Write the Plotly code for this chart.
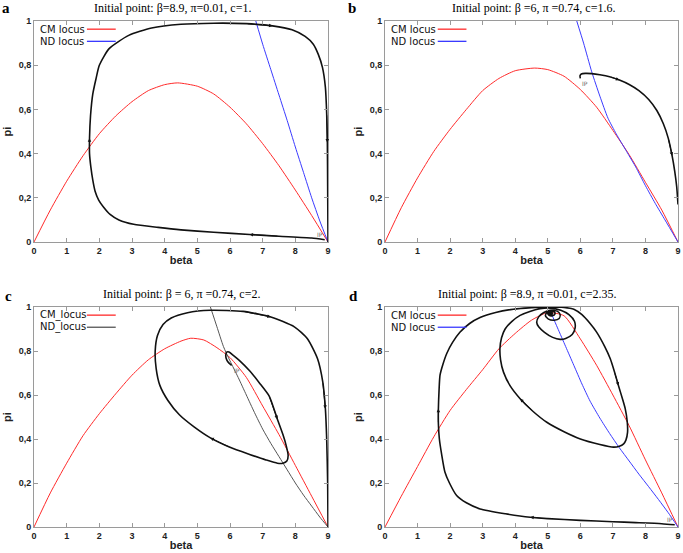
import plotly.graph_objects as go

# ---------------- DATA ----------------
x_tick_vals = [0, 1, 2, 3, 4, 5, 6, 7, 8, 9]
x_tick_text = ["0", "1", "2", "3", "4", "5", "6", "7", "8", "9"]
y_tick_vals = [0, 0.2, 0.4, 0.6, 0.8, 1.0]
y_tick_text = ["0", "0,2", "0,4", "0,6", "0,8", "1"]

panel_letters = ["a", "b", "c", "d"]
panel_titles = [
    "Initial point: β=8.9, π=0.01, c=1.",
    "Initial point: β =6, π =0.74, c=1.6.",
    "Initial point: β = 6, π =0.74, c=2.",
    "Initial point: β =8.9, π =0.01, c=2.35.",
]
cm_names = ["CM locus", "CM locus", "CM_locus", "CM locus"]
nd_names = ["ND locus", "ND locus", "ND_locus", "ND locus"]

# Panel a
a_cm_beta = [0, 0.5, 1, 1.5, 2, 2.5, 3, 3.5, 4, 4.4, 5, 5.5, 6, 6.5, 7, 7.5, 8, 8.5, 9]
a_cm_pi = [0, 0.145, 0.275, 0.39, 0.49, 0.57, 0.635, 0.685, 0.712, 0.72, 0.705, 0.67, 0.61,
           0.535, 0.445, 0.345, 0.235, 0.12, 0]
a_nd_beta = [6.79, 7.0, 7.25, 7.5, 7.75, 8.0, 8.25, 8.5, 8.75, 9.0]
a_nd_pi = [1.0, 0.895, 0.78, 0.665, 0.55, 0.43, 0.315, 0.2, 0.095, 0]
a_tr_beta = [8.9, 8.5, 7.5, 6.6, 5.5, 4.5, 3.8, 3.05, 2.6, 2.33, 2.12, 1.98, 1.87, 1.8, 1.74,
             1.70, 1.70, 1.73, 1.80, 1.90, 2.0, 2.3, 2.9, 3.6, 4.5, 5.5, 6.5, 7.3, 7.9, 8.3,
             8.55, 8.7, 8.83, 8.92, 8.96, 8.98, 8.99, 9.0]
a_tr_pi = [0.01, 0.018, 0.026, 0.034, 0.044, 0.055, 0.066, 0.08, 0.1, 0.125, 0.16, 0.19, 0.23,
           0.28, 0.34, 0.40, 0.47, 0.57, 0.67, 0.74, 0.80, 0.875, 0.935, 0.968, 0.985, 0.99,
           0.988, 0.978, 0.96, 0.93, 0.895, 0.85, 0.79, 0.70, 0.58, 0.45, 0.25, 0.0]
a_arrow_idx = [3, 16, 27, 35]

# Panel b
b_cm_beta = [0, 0.5, 1, 1.5, 2, 2.5, 3, 3.5, 4, 4.6, 5, 5.5, 6, 6.5, 7, 7.5, 8, 8.5, 9]
b_cm_pi = [0, 0.155, 0.29, 0.41, 0.51, 0.6, 0.685, 0.74, 0.775, 0.787, 0.78, 0.75, 0.69, 0.61,
           0.505, 0.395, 0.27, 0.145, 0]
b_nd_beta = [5.89, 6.1, 6.35, 6.6, 6.85, 7.1, 7.4, 7.5, 7.7, 8.0, 8.3, 8.6, 9.0]
b_nd_pi = [1.0, 0.9, 0.77, 0.66, 0.56, 0.49, 0.415, 0.39, 0.34, 0.255, 0.175, 0.1, 0]
b_tr_beta = [6.0, 5.99, 6.03, 6.15, 6.35, 6.6, 6.9, 7.2, 7.5, 7.8, 8.1, 8.35, 8.55, 8.7, 8.82,
             8.9, 8.96, 9.0]
b_tr_pi = [0.74, 0.752, 0.76, 0.763, 0.762, 0.757, 0.748, 0.733, 0.713, 0.685, 0.645, 0.595,
           0.535, 0.47, 0.39, 0.32, 0.25, 0.17]
b_arrow_idx = [7, 14]

# Panel c
c_cm_beta = [0, 0.5, 1, 1.5, 2, 2.5, 3, 3.5, 4, 4.5, 4.8, 5.2, 5.6, 6, 6.5, 7, 7.5, 8, 8.5, 9]
c_cm_pi = [0, 0.155, 0.29, 0.415, 0.515, 0.605, 0.69, 0.76, 0.81, 0.845, 0.858, 0.85, 0.815,
           0.77, 0.68, 0.55, 0.42, 0.28, 0.14, 0]
c_nd_beta = [5.4, 5.6, 5.8, 6.0, 6.25, 6.5, 6.75, 7.0, 7.25, 7.5, 7.75, 8.0, 8.25, 8.5, 8.75, 9.0]
c_nd_pi = [1.0, 0.91, 0.82, 0.755, 0.68, 0.6, 0.52, 0.445, 0.38, 0.32, 0.26, 0.2, 0.145, 0.095,
           0.045, 0]
c_tr_beta = [6.05, 5.97, 5.9, 5.87, 5.9, 5.97, 6.1, 6.3, 6.6, 6.9, 7.2, 7.45, 7.62, 7.72, 7.78,
             7.74, 7.62, 7.45, 7.1, 6.6, 6.0, 5.4, 4.9, 4.45, 4.1, 3.85, 3.74, 3.71, 3.78, 3.95,
             4.2, 4.7, 5.4, 6.4, 7.25, 7.97, 8.37, 8.68, 8.84, 8.92, 8.96, 8.99, 9.0]
c_tr_pi = [0.735, 0.745, 0.76, 0.78, 0.795, 0.795, 0.78, 0.755, 0.71, 0.655, 0.595, 0.49, 0.42,
           0.37, 0.325, 0.3, 0.29, 0.29, 0.305, 0.33, 0.362, 0.405, 0.455, 0.51, 0.575, 0.645,
           0.72, 0.8, 0.87, 0.92, 0.95, 0.974, 0.985, 0.98, 0.955, 0.91, 0.856, 0.765, 0.66,
           0.537, 0.40, 0.20, 0.0]
c_arrow_idx = [11, 21, 34, 39]

# Panel d
d_cm_beta = [0, 0.5, 1, 1.5, 2, 2.5, 3, 3.5, 4, 4.5, 5.0, 5.5, 6, 6.5, 7, 7.5, 8, 8.5, 9]
d_cm_pi = [0, 0.14, 0.275, 0.41, 0.53, 0.625, 0.715, 0.81, 0.88, 0.94, 0.975, 0.96, 0.855,
           0.735, 0.6, 0.46, 0.305, 0.155, 0]
d_nd_beta = [5.09, 5.3, 5.55, 5.8, 6.05, 6.3, 6.6, 6.9, 7.2, 7.5, 7.8, 8.1, 8.4, 8.7, 9.0]
d_nd_pi = [0.977, 0.905, 0.82, 0.735, 0.65, 0.572, 0.495, 0.425, 0.36, 0.3, 0.24, 0.183,
           0.125, 0.065, 0]
d_tr_beta = [8.9, 8.5, 7.7, 7.0, 6.0, 5.0, 4.46, 3.7, 2.92, 2.5, 2.2, 1.98, 1.84, 1.74, 1.67,
             1.64, 1.64, 1.66, 1.69, 1.78, 1.9, 2.08, 2.3, 2.6, 2.92, 3.4, 3.94, 4.5, 5.0, 5.5,
             5.8, 6.05, 6.3, 6.5, 6.75, 6.92, 7.05, 7.17, 7.3, 7.38, 7.44, 7.45, 7.4, 7.33, 7.2,
             7.02, 6.6, 6.0, 5.5, 4.97, 4.55, 4.15, 3.85, 3.64, 3.55, 3.53, 3.58, 3.69, 3.9,
             4.15, 4.45, 4.76, 5.07,
             5.4, 5.65, 5.82, 5.84, 5.75, 5.55, 5.38, 5.15, 4.9, 4.72, 4.66, 4.72, 4.88, 5.07,
             5.3, 5.38, 5.35, 5.2, 5.02, 4.93, 4.97, 5.08,
             5.2, 5.22, 5.14, 5.04, 5.0, 5.06, 5.13, 5.14, 5.09, 5.05, 5.08, 5.1, 5.08]
d_tr_pi = [0.01, 0.015, 0.02, 0.024, 0.03, 0.038, 0.044, 0.06, 0.082, 0.11, 0.143, 0.2, 0.25,
           0.33, 0.40, 0.47, 0.537, 0.62, 0.69, 0.74, 0.79, 0.84, 0.885, 0.925, 0.952, 0.975,
           0.99, 0.997, 1.0, 0.998,
           0.99, 0.965, 0.925, 0.886, 0.82, 0.765, 0.705, 0.643, 0.58, 0.537, 0.48, 0.43,
           0.395, 0.378, 0.367, 0.363, 0.375, 0.40, 0.433, 0.476, 0.525, 0.583, 0.64, 0.704,
           0.76, 0.81, 0.86, 0.90, 0.935, 0.962, 0.98, 0.992, 0.995,
           0.985, 0.965, 0.935, 0.905, 0.875, 0.857, 0.853, 0.862, 0.885, 0.91, 0.93, 0.955,
           0.975, 0.985,
           0.98, 0.965, 0.948, 0.94, 0.945, 0.96, 0.975, 0.982,
           0.978, 0.968, 0.96, 0.962, 0.971, 0.978, 0.975, 0.969, 0.966, 0.97, 0.974, 0.972,
           0.97]
d_arrow_idx = [6, 16, 37, 51]

panels = [
    (a_cm_beta, a_cm_pi, a_nd_beta, a_nd_pi, a_tr_beta, a_tr_pi, a_arrow_idx),
    (b_cm_beta, b_cm_pi, b_nd_beta, b_nd_pi, b_tr_beta, b_tr_pi, b_arrow_idx),
    (c_cm_beta, c_cm_pi, c_nd_beta, c_nd_pi, c_tr_beta, c_tr_pi, c_arrow_idx),
    (d_cm_beta, d_cm_pi, d_nd_beta, d_nd_pi, d_tr_beta, d_tr_pi, d_arrow_idx),
]

# ---------------- LAYOUT / STYLE ----------------
W, H = 683, 553
# plot areas in pixels: (left, right, top, bottom)
boxes = [(34, 328, 21, 242), (385, 678, 21, 242), (34, 328, 307, 527), (385, 678, 307, 527)]
title_pos = [(172, 8), (533, 8), (181, 294), (527, 294)]
letter_pos = [(6, 8), (352, 8), (8, 296), (353, 296)]
nd_colors = ["#3a3aff", "#3a3aff", "#555555", "#3a3aff"]
cm_color = "#ff2a2a"
frame_col = "#9a9a9a"

fig = go.Figure()
annotations = []
shapes = []
layout_axes = {}

for i, (cmb, cmp, ndb, ndp, trb, trp, arr) in enumerate(panels):
    n = "" if i == 0 else str(i + 1)
    xa, ya = "x" + n, "y" + n
    l, r, t, b = boxes[i]
    layout_axes["xaxis" + n] = dict(
        domain=[l / W, r / W], anchor=ya, range=[0, 9], automargin=False,
        tickvals=x_tick_vals, ticktext=x_tick_text,
        ticks="inside", ticklen=4, tickcolor=frame_col, showline=True, linecolor=frame_col,
        linewidth=1, mirror="ticks", showgrid=False, zeroline=False,
        tickfont=dict(family="Liberation Sans", size=9, color="#222", weight="bold"),
        title=dict(text="beta", standoff=1,
                   font=dict(family="Liberation Sans", size=11, color="#222", weight="bold")),
    )
    layout_axes["yaxis" + n] = dict(
        domain=[1 - b / H, 1 - t / H], anchor=xa, range=[0, 1], automargin=False,
        tickvals=y_tick_vals, ticktext=y_tick_text,
        ticks="inside", ticklen=4, tickcolor=frame_col, showline=True, linecolor=frame_col,
        linewidth=1, mirror="ticks", showgrid=False, zeroline=False,
        tickfont=dict(family="Liberation Sans", size=9, color="#222", weight="bold"),
        title=dict(text="pi", standoff=4,
                   font=dict(family="Liberation Sans", size=11, color="#222", weight="bold")),
    )
    fig.add_trace(go.Scatter(x=cmb, y=cmp, mode="lines", line=dict(color=cm_color, width=1,
                             shape="spline", smoothing=0.6), xaxis=xa, yaxis=ya,
                             showlegend=False, name=cm_names[i]))
    fig.add_trace(go.Scatter(x=ndb, y=ndp, mode="lines", line=dict(color=nd_colors[i], width=1,
                             shape="spline", smoothing=0.6), xaxis=xa, yaxis=ya,
                             showlegend=False, name=nd_names[i]))
    fig.add_trace(go.Scatter(x=trb, y=trp, mode="lines", line=dict(color="#111111", width=1.6,
                             shape="spline", smoothing=0.6), xaxis=xa, yaxis=ya,
                             showlegend=False, name="trajectory"))
    # direction arrows along the trajectory
    for k in arr:
        annotations.append(dict(x=trb[k], y=trp[k], ax=trb[k - 1], ay=trp[k - 1],
                                xref=xa, yref=ya, axref=xa, ayref=ya, text="",
                                showarrow=True, arrowhead=2, arrowsize=0.7, arrowwidth=1,
                                arrowcolor="#111"))
    # IP label at the initial point
    annotations.append(dict(x=trb[0], y=trp[0], xref=xa, yref=ya, text="IP",
                            showarrow=False, xanchor="right" if i in (0, 3) else "left",
                            yanchor="bottom" if i in (0, 3) else "top",
                            font=dict(family="DejaVu Sans", size=6, color="#666")))
    # legend (text then line sample)
    for j, (name, col) in enumerate([(cm_names[i], cm_color), (nd_names[i], nd_colors[i])]):
        yy = 0.963 - j * 0.055
        annotations.append(dict(x=0.013, y=yy, xref=xa + " domain", yref=ya + " domain",
                                text=name, showarrow=False, xanchor="left", yanchor="middle",
                                font=dict(family="DejaVu Sans", size=10, color="#111")))
        shapes.append(dict(type="line", xref=xa + " domain", yref=ya + " domain",
                           x0=0.18, x1=0.278, y0=yy, y1=yy, line=dict(color=col, width=1.3)))
    # panel title and letter
    tx, ty = title_pos[i]
    annotations.append(dict(x=tx / W, y=1 - ty / H, xref="paper", yref="paper",
                            text=panel_titles[i], showarrow=False, xanchor="center",
                            yanchor="middle",
                            font=dict(family="Liberation Serif", size=12, color="#000")))
    lx, ly = letter_pos[i]
    annotations.append(dict(x=lx / W, y=1 - ly / H, xref="paper", yref="paper",
                            text="<b>" + panel_letters[i] + "</b>", showarrow=False,
                            xanchor="center", yanchor="middle",
                            font=dict(family="Liberation Serif", size=15, color="#000")))

fig.update_layout(
    width=W, height=H, margin=dict(l=0, r=0, t=0, b=0, autoexpand=False),
    paper_bgcolor="white", plot_bgcolor="white",
    annotations=annotations, shapes=shapes, showlegend=False,
    **layout_axes,
)

# remove the browser's default page margin so the figure sits at the window origin
fig.write_html("out.html", config={"displayModeBar": False},
               post_script="document.body.style.margin='0';document.body.style.overflow='hidden';")
